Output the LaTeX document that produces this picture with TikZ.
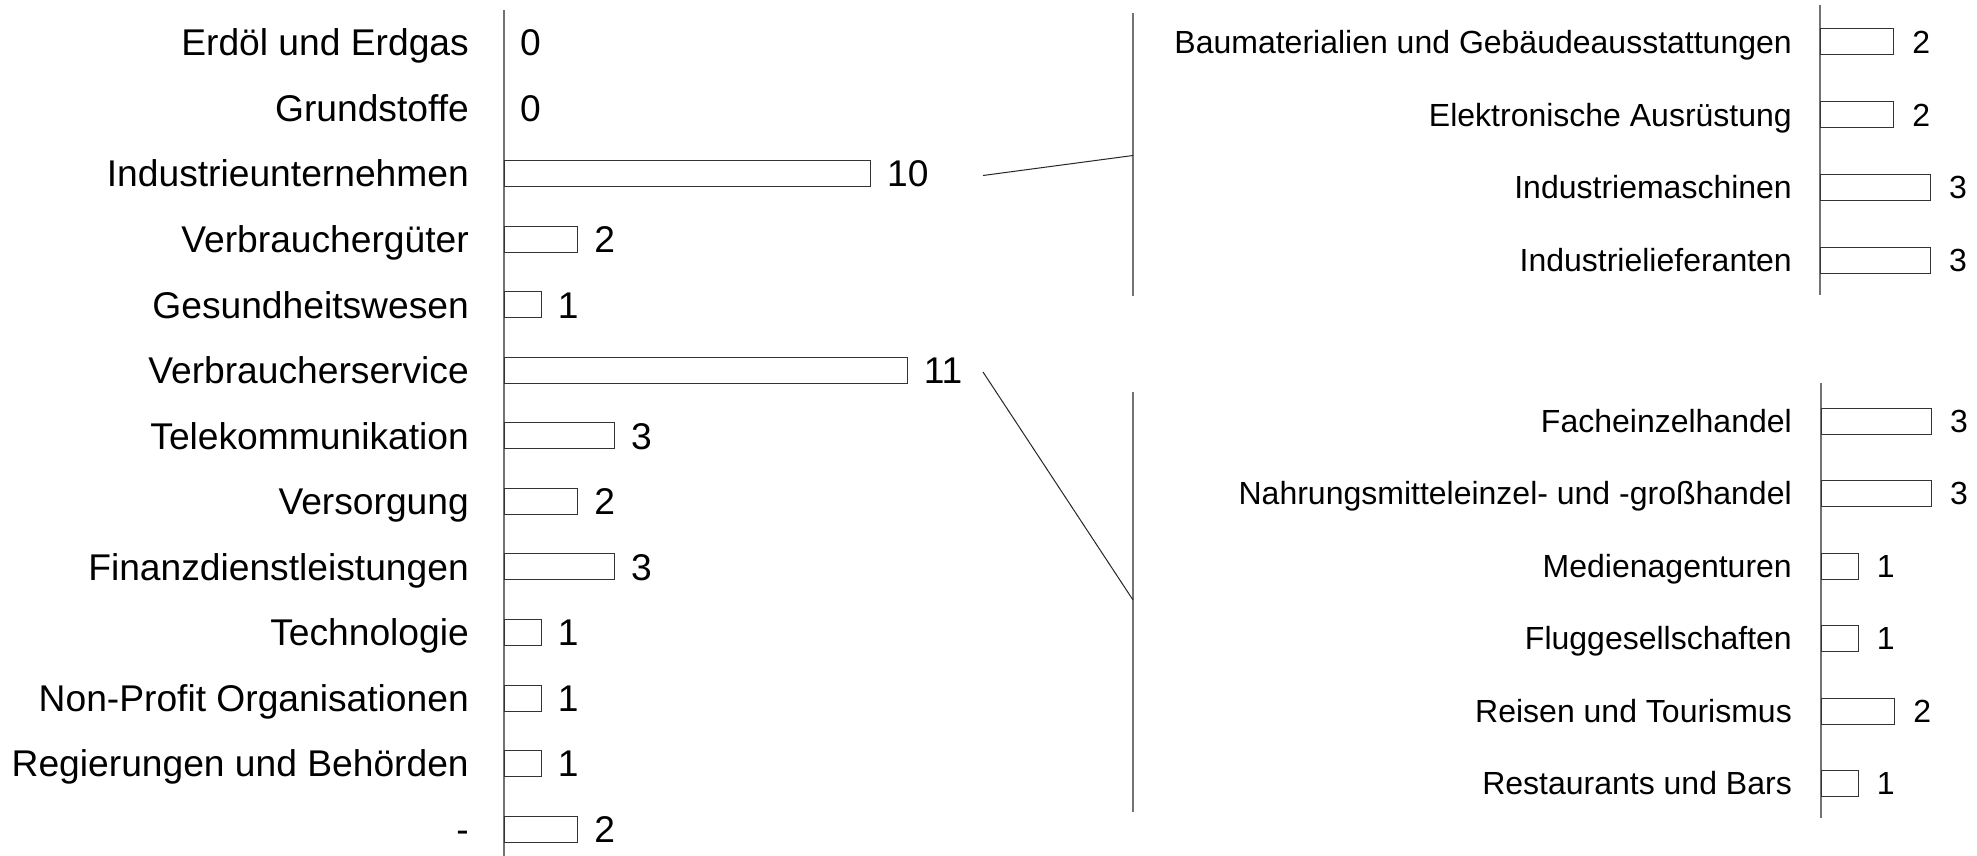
\documentclass[tikz,border=0pt]{standalone}
\usepackage{fontspec}
\setmainfont{Liberation Sans}
\usetikzlibrary{calc}
\begin{document}
\begin{tikzpicture}[x=1pt,y=-1pt,
  bigtxt/.style={font=\fontsize{37.2}{40}\selectfont, inner sep=0pt, text height=26.6pt, text depth=0pt},
  smalltxt/.style={font=\fontsize{32}{35}\selectfont, inner sep=0pt, text height=22.9pt, text depth=0pt},
  cat/.style={bigtxt, anchor=east},
  val/.style={bigtxt, anchor=west},
  subcat/.style={smalltxt, anchor=east},
  subval/.style={smalltxt, anchor=west},
  axisline/.style={draw=black!55, line width=1.1pt},
  barbox/.style={draw=black!80, line width=1pt, fill=white, minimum height=26pt, inner sep=0pt, anchor=west},
  link/.style={draw=black!85, line width=1pt}
]
\useasboundingbox (0,0) rectangle (1977,856);
\pgfmathsetmacro{\u}{36.6}
% main axis
\coordinate (ax0) at (504,10);
\coordinate (ax1) at (504,856);
\draw[axisline] (ax0) -- (ax1);
% main rows
\foreach \i/\lab/\v in {0/Erdöl und Erdgas/0, 1/Grundstoffe/0, 2/Industrieunternehmen/10, 3/Verbrauchergüter/2, 4/Gesundheitswesen/1, 5/Verbraucherservice/11, 6/Telekommunikation/3, 7/Versorgung/2, 8/Finanzdienstleistungen/3, 9/Technologie/1, 10/Non-Profit Organisationen/1, 11/Regierungen und Behörden/1, 12/-/2}{
  \pgfmathsetmacro{\yy}{42.5+65.55*\i}
  \node[cat] (c\i) at (469,\yy) {\lab};
  \ifnum\v>0
    \node[barbox, minimum width={\v*\u}] (b\i) at (504,\yy) {};
    \node[val] (v\i) at ($(b\i.east)+(16,0)$) {\v};
  \else
    \node[val] (v\i) at (520,\yy) {\v};
  \fi
}
% group 1
\coordinate (g1a) at (1133,13);
\coordinate (g1b) at (1133,296);
\coordinate (g1m) at (1133,155.5);
\draw[axisline] (g1a) -- (g1b);
\coordinate (h1a) at (1820,5);
\coordinate (h1b) at (1820,295);
\draw[axisline] (h1a) -- (h1b);
\foreach \i/\lab/\v in {0/Baumaterialien und Gebäudeausstattungen/2, 1/Elektronische Ausrüstung/2, 2/Industriemaschinen/3, 3/Industrielieferanten/3}{
  \pgfmathsetmacro{\yy}{42+72.7*\i}
  \node[subcat] (s\i) at (1792,\yy) {\lab};
  \node[barbox, minimum width={\v*\u}] (sb\i) at (1820,\yy) {};
  \node[subval] (sv\i) at ($(sb\i.east)+(18,0)$) {\v};
}
% group 2
\coordinate (g2a) at (1133,392);
\coordinate (g2b) at (1133,812);
\coordinate (g2m) at (1133,600);
\draw[axisline] (g2a) -- (g2b);
\coordinate (h2a) at (1821,383);
\coordinate (h2b) at (1821,818);
\draw[axisline] (h2a) -- (h2b);
\foreach \i/\lab/\v in {0/Facheinzelhandel/3, 1/Nahrungsmitteleinzel- und -großhandel/3, 2/Medienagenturen/1, 3/Fluggesellschaften/1, 4/Reisen und Tourismus/2, 5/Restaurants und Bars/1}{
  \pgfmathsetmacro{\yy}{421+72.5*\i}
  \node[subcat] (t\i) at (1792,\yy) {\lab};
  \node[barbox, minimum width={\v*\u}] (tb\i) at (1821,\yy) {};
  \node[subval] (tv\i) at ($(tb\i.east)+(18,0)$) {\v};
}
% connectors
\coordinate (l1) at (983,175.5);
\coordinate (l2) at (983,372);
\draw[link] (l1) -- (g1m);
\draw[link] (l2) -- (g2m);
\end{tikzpicture}
\end{document}
